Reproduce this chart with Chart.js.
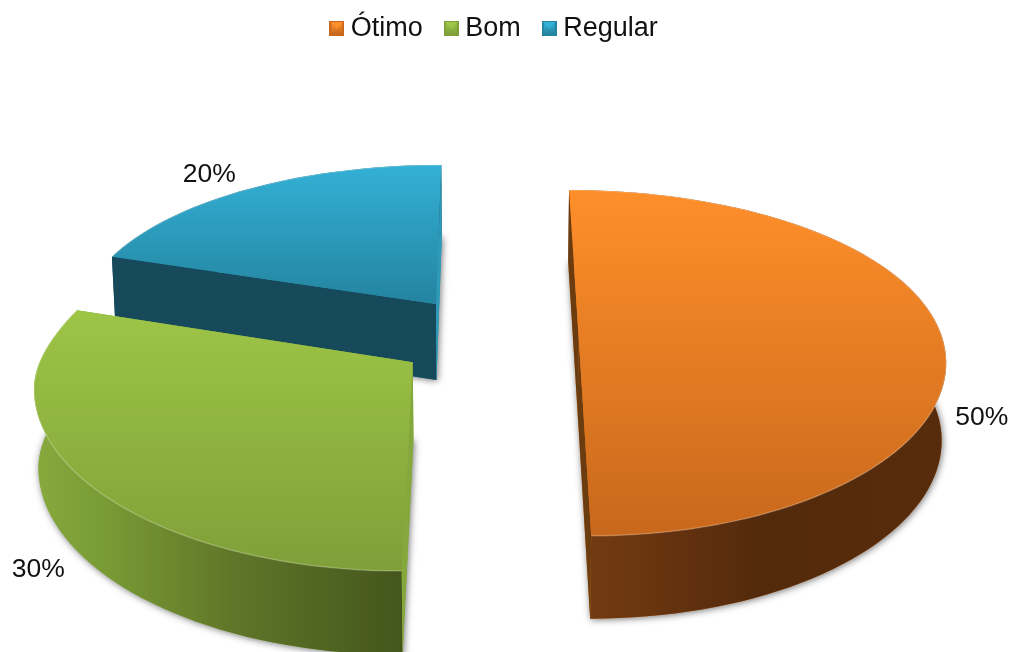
<!DOCTYPE html>
<html>
<head>
<meta charset="utf-8">
<style>html,body{margin:0;padding:0;background:#fff}canvas{display:block}</style>
<script src="https://cdn.jsdelivr.net/npm/chart.js@4"></script>
</head>
<body>
<canvas id="c" width="1012" height="652"></canvas>
<script>
const categories = ['Ótimo', 'Bom', 'Regular'];
const values = [50, 30, 20];
const valueLabels = ['50%', '30%', '20%'];

const baseColors = ['#D9781F', '#8DB03F', '#2E93B2'];
const topGrad = [['#FF8F2A', '#C8681C'], ['#9DC546', '#7F9F39'], ['#33B0D6', '#2484A0']];
const outerGrad = [
  [[0, '#753C12'], [0.2, '#6A3510'], [0.5, '#542A0C'], [1, '#562C0C']],
  [[0, '#87A93C'], [0.2, '#789A35'], [0.55, '#5F7528'], [1, '#44561C']],
  [[0, '#164A5B'], [1, '#164A5B']]
];
const startWall = ['#6B3C10', '#85A83C', '#164A5B'];
const endWall = ['#6B3C10', '#85A83C', '#2E9AB8'];
const labelNudge = [[7, 81], [-9, 82], [-25, -5]];

const X0 = 488, Y0 = 337, B = 0.458, TILT = 0.15 / 369, DEPTH = 77, SHRINK = 0.99, XS = 0.985, XP = 0.8, DP = 0.45;

function xScale(u, q) {
  const w = 1 - TILT * q;
  const s = Math.max(0, Math.min(1, (q + 50) / 160));
  const flare = u < 0 ? 1 + 0.012 * s * s * (3 - 2 * s) : 1;
  return XS * flare / Math.pow(w, XP);
}
function topPt(u, q) {
  const w = 1 - TILT * q;
  return [X0 + u * xScale(u, q), Y0 + B * q / w];
}
function botPt(u, q) {
  const w = 1 - TILT * q;
  return [X0 + SHRINK * u * xScale(u, q), Y0 + B * q / w + DEPTH / Math.pow(w, DP)];
}
function trace(ctx, pts) {
  ctx.beginPath();
  pts.forEach((p, i) => i ? ctx.lineTo(p[0], p[1]) : ctx.moveTo(p[0], p[1]));
  ctx.closePath();
}
function sliceGeom(arc) {
  const p = arc.getProps(['startAngle', 'endAngle', 'outerRadius']);
  const mid = (p.startAngle + p.endAngle) / 2;
  const off = arc.options.offset;
  const cu = off * Math.cos(mid), cq = off * Math.sin(mid);
  const rim = [];
  const n = Math.max(8, Math.ceil((p.endAngle - p.startAngle) / (Math.PI / 90)));
  for (let i = 0; i <= n; i++) {
    const a = p.startAngle + (p.endAngle - p.startAngle) * i / n;
    rim.push([cu + p.outerRadius * Math.cos(a), cq + p.outerRadius * Math.sin(a)]);
  }
  return {cu, cq, rim, mid, r: p.outerRadius};
}
const pie3d = {
  id: 'pie3d',
  beforeDatasetsDraw(chart) {
    const ctx = chart.ctx;
    const arcs = chart.getDatasetMeta(0).data;
    [2, 1, 0].forEach(i => {
      const g = sliceGeom(arcs[i]);
      const c = [g.cu, g.cq];
      const topRim = g.rim.map(p => topPt(p[0], p[1]));
      const botRim = g.rim.map(p => botPt(p[0], p[1]));
      const tc = topPt(c[0], c[1]), bc = botPt(c[0], c[1]);
      const xs = topRim.concat(botRim).map(p => p[0]);
      const minX = Math.min(...xs), maxX = Math.max(...xs);

      ctx.save();
      ctx.shadowColor = 'rgba(0,0,0,0.55)';
      ctx.shadowBlur = 7;
      ctx.shadowOffsetX = 1;
      ctx.shadowOffsetY = 1;
      ctx.fillStyle = baseColors[i];
      trace(ctx, [bc].concat(botRim));
      ctx.fill();
      ctx.restore();

      const og = ctx.createLinearGradient(minX, 0, maxX, 0);
      outerGrad[i].forEach(s => og.addColorStop(s[0], s[1]));
      ctx.fillStyle = og;
      trace(ctx, topRim.concat(botRim.slice().reverse()));
      ctx.fill();

      ctx.fillStyle = startWall[i];
      trace(ctx, [tc, topRim[0], botRim[0], bc]);
      ctx.fill();
      ctx.fillStyle = endWall[i];
      trace(ctx, [tc, topRim[topRim.length - 1], botRim[botRim.length - 1], bc]);
      ctx.fill();

      const ys = topRim.concat([tc]).map(p => p[1]);
      const tg = ctx.createLinearGradient(0, Math.min(...ys), 0, Math.max(...ys));
      tg.addColorStop(0, topGrad[i][0]);
      tg.addColorStop(1, topGrad[i][1]);
      ctx.fillStyle = tg;
      trace(ctx, [tc].concat(topRim));
      ctx.fill();

      ctx.save();
      ctx.strokeStyle = 'rgba(255,255,255,0.22)';
      ctx.lineWidth = 1.5;
      ctx.beginPath();
      topRim.forEach((p, k) => k ? ctx.lineTo(p[0], p[1]) : ctx.moveTo(p[0], p[1]));
      ctx.stroke();
      ctx.restore();
    });
    return false;
  },
  afterDraw(chart) {
    const ctx = chart.ctx;
    const arcs = chart.getDatasetMeta(0).data;
    ctx.save();
    ctx.font = '26.5px "Liberation Sans", Arial, sans-serif';
    ctx.fillStyle = '#111';
    ctx.textAlign = 'center';
    ctx.textBaseline = 'middle';
    arcs.forEach((arc, i) => {
      const g = sliceGeom(arc);
      const R = g.r * 1.09;
      const p = topPt(g.cu + R * Math.cos(g.mid), g.cq + R * Math.sin(g.mid));
      ctx.fillText(valueLabels[i], p[0] + labelNudge[i][0], p[1] + labelNudge[i][1]);
    });
    ctx.restore();
  }
};

function marker(i) {
  const s = 15, cv = document.createElement('canvas');
  cv.width = s; cv.height = s;
  const x = cv.getContext('2d');
  x.fillStyle = topGrad[i][1];
  x.fillRect(0, 0, s, s);
  const g = x.createLinearGradient(0, 2, 0, 13);
  g.addColorStop(0, topGrad[i][0]);
  g.addColorStop(1, topGrad[i][1]);
  x.fillStyle = g;
  x.fillRect(2, 2, s - 4, s - 4);
  x.fillStyle = topGrad[i][0];
  x.beginPath(); x.moveTo(1, 1); x.lineTo(14, 1); x.lineTo(7.5, 8); x.closePath(); x.fill();
  return cv;
}

new Chart(document.getElementById('c'), {
  type: 'pie',
  data: {
    labels: categories,
    datasets: [{
      data: values,
      backgroundColor: baseColors,
      borderWidth: 0,
      offset: 92,
      radius: 369
    }]
  },
  options: {
    responsive: false,
    animation: false,
    layout: {padding: {top: -13, bottom: 0, left: 0, right: 18}},
    plugins: {
      tooltip: {enabled: false},
      legend: {
        position: 'top',
        padding: 0,
        labels: {
          usePointStyle: true,
          pointStyleWidth: 1,
          padding: 28,
          color: '#111',
          font: {size: 27, family: '"Liberation Sans", Arial, sans-serif'},
          generateLabels(chart) {
            return categories.map((t, i) => ({
              text: t, fillStyle: baseColors[i], strokeStyle: baseColors[i], lineWidth: 0,
              pointStyle: marker(i), hidden: false, index: i, fontColor: '#111'
            }));
          }
        }
      }
    }
  },
  plugins: [pie3d]
});
</script>
</body>
</html>
